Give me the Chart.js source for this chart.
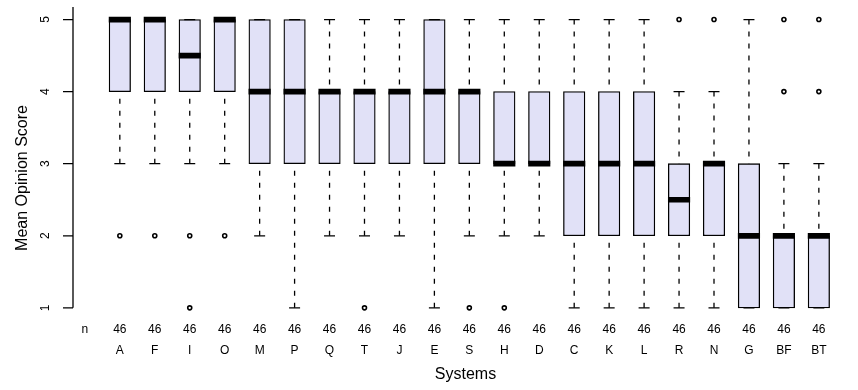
<!DOCTYPE html>
<html>
<head>
<meta charset="utf-8">
<script src="https://cdn.jsdelivr.net/npm/chart.js@4/dist/chart.umd.min.js"></script>
<style>
  html, body { margin: 0; padding: 0; background: #fff; overflow: hidden; }
  #boxChart { display: block; }
</style>
</head>
<body>
<canvas id="boxChart" width="858" height="390"></canvas>
<script>
// Systems, in plot order
const systems = ["A", "F", "I", "O", "M", "P", "Q", "T", "J", "E", "S", "H", "D", "C", "K", "L", "R", "N", "G", "BF", "BT"];
const nCounts = [46, 46, 46, 46, 46, 46, 46, 46, 46, 46, 46, 46, 46, 46, 46, 46, 46, 46, 46, 46, 46];

// Box statistics
const whiskerLow  = [3, 3, 3, 3, 2, 1, 2, 2, 2, 1, 2, 2, 2, 1, 1, 1, 1, 1, 1, 1, 1];
const q1          = [4, 4, 4, 4, 3, 3, 3, 3, 3, 3, 3, 3, 3, 2, 2, 2, 2, 2, 1, 1, 1];
const medians     = [5, 5, 4.5, 5, 4, 4, 4, 4, 4, 4, 4, 3, 3, 3, 3, 3, 2.5, 3, 2, 2, 2];
const q3          = [5, 5, 5, 5, 5, 5, 4, 4, 4, 5, 4, 4, 4, 4, 4, 4, 3, 3, 3, 2, 2];
const whiskerHigh = [5, 5, 5, 5, 5, 5, 5, 5, 5, 5, 5, 5, 5, 5, 5, 5, 4, 4, 5, 3, 3];
const outliers = [[2], [2], [2, 1], [2], [], [], [], [1], [], [], [1], [1], [], [], [], [], [5], [5], [], [4, 5], [4, 5]];

const yTicks = [1, 2, 3, 4, 5];

const BOX_FILL = "#e1e1f7";
const MED_HALF = 0.035;

// datasets built from the arrays above
const boxData = systems.map((s, i) => ({ x: i, y: [q1[i], q3[i]] }));
const medData = systems.map((s, i) => ({ x: i, y: [medians[i] - MED_HALF, medians[i] + MED_HALF] }));

const whiskerData = [];
const capData = [];
systems.forEach((s, i) => {
  whiskerData.push({ x: i, y: whiskerLow[i] }, { x: i, y: q1[i] }, { x: i, y: null });
  whiskerData.push({ x: i, y: whiskerHigh[i] }, { x: i, y: q3[i] }, { x: i, y: null });
  capData.push({ x: i, y: whiskerLow[i] }, { x: i, y: whiskerHigh[i] });
});

const outlierData = [];
outliers.forEach((vals, i) => vals.forEach(v => outlierData.push({ x: i, y: v })));

// R-style left axis: line, outward ticks, rotated labels, title
const leftAxis = {
  id: "leftAxis",
  afterDraw(chart) {
    const ctx = chart.ctx;
    const y = chart.scales.y;
    const left = chart.chartArea.left;
    ctx.save();
    ctx.strokeStyle = "#000";
    ctx.lineWidth = 1.3;
    ctx.beginPath();
    ctx.moveTo(left, chart.chartArea.top - 1);
    ctx.lineTo(left, y.getPixelForValue(yTicks[0]));
    y.ticks.forEach(t => {
      const py = y.getPixelForValue(t.value);
      ctx.moveTo(left - 10, py);
      ctx.lineTo(left, py);
    });
    ctx.stroke();

    ctx.fillStyle = "#000";
    ctx.textAlign = "center";
    ctx.textBaseline = "middle";
    ctx.font = "12px 'Liberation Sans', Arial, sans-serif";
    y.ticks.forEach(t => {
      const py = y.getPixelForValue(t.value);
      ctx.save();
      ctx.translate(left - 27.5, py);
      ctx.rotate(-Math.PI / 2);
      ctx.fillText(String(t.value), 0, 0);
      ctx.restore();
    });

    ctx.font = "16px 'Liberation Sans', Arial, sans-serif";
    ctx.translate(22.5, 178);
    ctx.rotate(-Math.PI / 2);
    ctx.fillText("Mean Opinion Score", 0, 0);
    ctx.restore();
  }
};

Chart.defaults.font.family = "'Liberation Sans', Arial, sans-serif";
Chart.defaults.color = "#000";

const ctx = document.getElementById("boxChart").getContext("2d");
new Chart(ctx, {
  type: "bar",
  data: {
    datasets: [
      {
        type: "scatter",
        data: outlierData,
        pointStyle: "circle",
        pointRadius: 2,
        pointBorderWidth: 1.6,
        pointBackgroundColor: "#fff",
        pointBorderColor: "#000",
        order: 1,
      },
      {
        type: "bar",
        data: medData,
        backgroundColor: "#000",
        borderWidth: 0,
        barThickness: 21.5,
        grouped: false,
        order: 2,
      },
      {
        type: "scatter",
        data: capData,
        pointStyle: "line",
        pointRadius: 5.5,
        pointBorderWidth: 1.3,
        pointBorderColor: "#000",
        order: 3,
      },
      {
        type: "line",
        data: whiskerData,
        borderColor: "#000",
        borderWidth: 1.3,
        borderDash: [5, 7],
        pointRadius: 0,
        spanGaps: false,
        fill: false,
        order: 4,
      },
      {
        type: "bar",
        data: boxData,
        backgroundColor: BOX_FILL,
        borderColor: "#000",
        borderWidth: 1.3,
        borderSkipped: false,
        barThickness: 21.5,
        grouped: false,
        order: 5,
      },
    ],
  },
  options: {
    responsive: false,
    animation: false,
    layout: { autoPadding: false, padding: { left: 73, top: 8, right: 0, bottom: 0 } },
    plugins: {
      legend: { display: false },
      tooltip: { enabled: false },
    },
    scales: {
      x: {
        type: "linear",
        offset: false,
        min: -1.34,
        max: 21.12,
        grid: { display: false, drawTicks: false, offset: false },
        border: { display: false },
        afterBuildTicks: axis => {
          axis.ticks = [-1].concat(systems.map((s, i) => i)).map(v => ({ value: v }));
        },
        ticks: {
          autoSkip: false,
          maxRotation: 0,
          padding: 0,
          font: { size: 12, lineHeight: 1.75 },
          callback: v => (v === -1 ? ["n", ""] : [String(nCounts[v]), systems[v]]),
        },
        title: {
          display: true,
          text: "Systems",
          font: { size: 16, lineHeight: 1.2 },
          padding: { top: 4, bottom: 5.4 },
        },
      },
      y: {
        display: false,
        min: 0.84,
        max: 5.16,
        afterBuildTicks: axis => {
          axis.ticks = yTicks.map(v => ({ value: v }));
        },
      },
    },
  },
  plugins: [leftAxis],
});
</script>
</body>
</html>
